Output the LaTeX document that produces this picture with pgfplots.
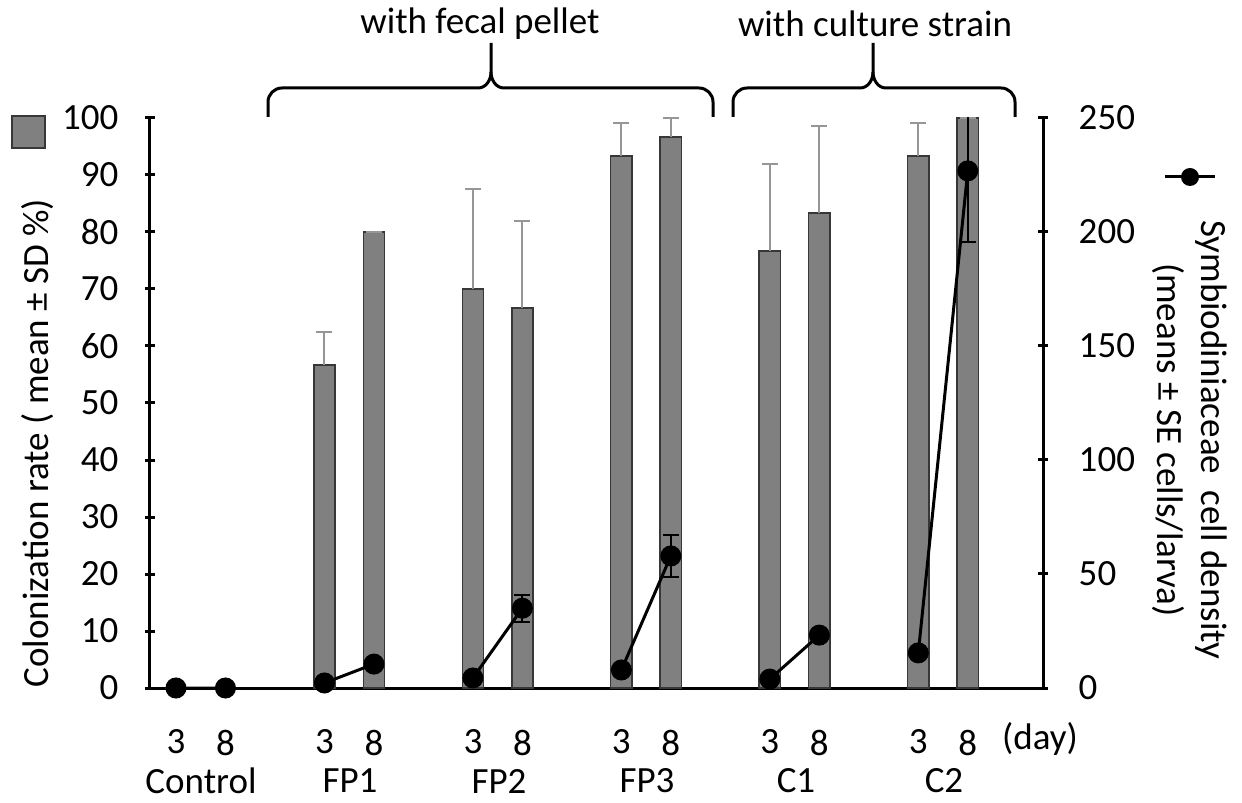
\documentclass[border=0pt]{standalone}
\usepackage{pgfplots}
\usepackage{pgfplotstable}
\pgfplotsset{compat=1.18}
\usepackage{fontspec}
\setmainfont{Carlito}

\definecolor{barfill}{RGB}{128,128,128}
\definecolor{baredge}{RGB}{55,55,55}
\definecolor{errgray}{RGB}{150,150,150}

% colonization rate (bars, left axis)
\pgfplotstableread{
x   y     e
0   0     0
1   0     0
3   56.7  5.8
4   80.0  0
6   70.0  17.5
7   66.7  15.3
9   93.3  5.8
10  96.7  3.3
12  76.7  15.3
13  83.3  15.3
15  93.3  5.8
16  100   0
}\colonization

% cell density (line, right axis); nan rows break the line between groups
\pgfplotstableread{
x   y      e
0   0      0
1   0      0
2   nan    0
3   2.2    0
4   10.5   0
5   nan    0
6   4.4    0
7   35.0   5.9
8   nan    0
9   7.9    0
10  57.9   9.2
11  nan    0
12  3.9    0
13  23.2   0
14  nan    0
15  15.4   0
16  226.8  31.2
}\density

\begin{document}
\fontsize{18.5}{22}\selectfont
\begin{tikzpicture}
\path[use as bounding box] (-75pt,-57.5pt) rectangle (546pt,344pt);

\pgfplotsset{
  common/.style={
    width=446.5pt, height=285pt, scale only axis,
    xmin=-0.525, xmax=17.52,
    tick align=outside, major tick length=5pt,
    y tick style={line width=1.5pt, black},
    /pgf/number format/assume math mode=true,
  }
}

\begin{axis}[common,
    ymin=0, ymax=100,
    axis x line=bottom, axis y line=left,
    axis line style={-, line width=1.5pt, black},
    xtick={0,1,3,4,6,7,9,10,12,13,15,16},
    xticklabels={3,8,3,8,3,8,3,8,3,8,3,8},
    x tick style={draw=none},
    xticklabel style={yshift=-12pt},
    ytick={0,10,...,100},
    yticklabel style={xshift=-7pt},
  ]
  \addplot[ybar, bar width=0.43, fill=barfill, draw=baredge, line width=0.75pt,
    error bars/.cd, y dir=plus, y explicit,
    error bar style={errgray, line width=1pt},
    error mark options={errgray, line width=1pt, mark size=4pt, rotate=90}]
    table[x=x, y=y, y error=e] {\colonization};
\end{axis}

\begin{axis}[common,
    ymin=0, ymax=250,
    axis x line=none, axis y line=right,
    axis line style={-, line width=1.5pt, black},
    ytick={0,50,...,250},
    yticklabel style={xshift=9pt},
    unbounded coords=jump,
  ]
  \addplot[black, line width=1.5pt, mark=*, mark size=4.5pt,
    error bars/.cd, y dir=both, y explicit,
    error bar style={black, line width=1pt},
    error mark options={black, line width=1pt, mark size=4pt, rotate=90}]
    table[x=x, y=y, y error=e] {\density};
\end{axis}

\begin{scope}[x=0.5pt, y=-0.5pt, shift={(-75pt,344pt)}]
  % braces
  \draw[line width=1.5pt] (268,117) -- (268,102) to[out=90,in=180] (282,88) -- (478,88)
    to[out=0,in=-90] (491,72) -- (491,43);
  \draw[line width=1.5pt] (491,72) to[out=-90,in=180] (504,88) -- (699,88)
    to[out=0,in=90] (713,102) -- (713,117);
  \draw[line width=1.5pt] (733,117) -- (733,102) to[out=90,in=180] (747,88) -- (860,88)
    to[out=0,in=-90] (873,72) -- (873,43);
  \draw[line width=1.5pt] (873,72) to[out=-90,in=180] (886,88) -- (1001,88)
    to[out=0,in=90] (1015,102) -- (1015,117);
  \node at (480,24) {with fecal pellet};
  \node at (875,24) {with culture strain};

  % group names
  \node[inner sep=0pt] at (201,781) {Control};
  \node[inner sep=0pt] at (350,781) {FP1};
  \node[inner sep=0pt] at (499,781) {FP2};
  \node[inner sep=0pt] at (647,781) {FP3};
  \node[inner sep=0pt] at (796,781) {C1};
  \node[inner sep=0pt] at (944,781) {C2};
  \node at (1040,739) {(day)};

  % legend: bars
  \draw[fill=barfill, draw=baredge, line width=0.75pt] (12,116) rectangle (45,148);
  \node[rotate=90] at (38,443) {Colonization rate ( mean ± SD \%)};

  % legend: line
  \draw[line width=1.5pt] (1165,177) -- (1215,177);
  \fill (1190,177) circle (9);
  \node[rotate=-90, align=center] at (1190,440)
    {Symbiodiniaceae\ \ cell density\\(means ± SE cells/larva)};
\end{scope}
\end{tikzpicture}
\end{document}
